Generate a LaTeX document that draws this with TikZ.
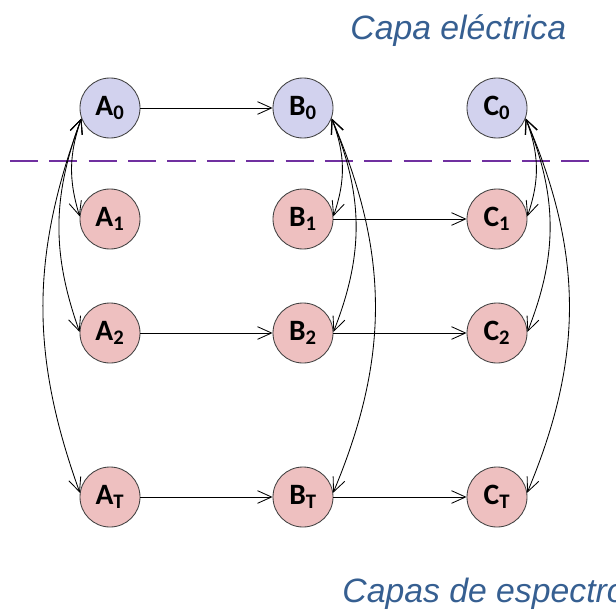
\documentclass[tikz,border=0pt]{standalone}
\usepackage{fontspec}
\setmainfont{Carlito}
\newfontfamily\titlefont{Liberation Sans}
\usetikzlibrary{arrows.meta}
\definecolor{topfill}{RGB}{210,210,238}
\definecolor{lowfill}{RGB}{238,192,192}
\definecolor{layerline}{RGB}{112,48,160}
\definecolor{layertext}{RGB}{54,95,145}
\tikzset{
  state/.style={circle, draw=black!75, line width=0.6pt, minimum size=1.5cm, inner sep=0pt, font=\bfseries\fontsize{21}{21}\selectfont},
  elec/.style={state, fill=topfill},
  spec/.style={state, fill=lowfill},
  layer/.style={font=\titlefont\itshape\fontsize{24}{24}\selectfont, text=layertext, inner sep=0pt}
}
\begin{document}
\begin{tikzpicture}[x=0.025cm, y=-0.025cm, >={Straight Barb[length=10pt,width=9pt]}, line width=0.6pt]
    \useasboundingbox (0,0) rectangle (616,610);

    % Layer titles
    \node[layer, anchor=base west] (ttop) at (350,40) {Capa eléctrica};
    \node[layer, anchor=base west] (tbot) at (342,602) {Capas de espectro};

    % Separator
    \draw[layerline, line width=2pt, dash pattern=on 20pt off 8pt] (10,161) -- (598,161);

    % Electric layer
    \node[elec] (A0) at (110,108) {A\textsubscript{0}};
    \node[elec] (B0) at (303,108) {B\textsubscript{0}};
    \node[elec] (C0) at (497,108) {C\textsubscript{0}};

    % Spectrum layers
    \node[spec] (A1) at (110,219) {A\textsubscript{1}};
    \node[spec] (B1) at (303,219) {B\textsubscript{1}};
    \node[spec] (C1) at (497,219) {C\textsubscript{1}};
    \node[spec] (A2) at (110,333) {A\textsubscript{2}};
    \node[spec] (B2) at (303,333) {B\textsubscript{2}};
    \node[spec] (C2) at (497,333) {C\textsubscript{2}};
    \node[spec] (AT) at (110,497) {A\textsubscript{T}};
    \node[spec] (BT) at (303,497) {B\textsubscript{T}};
    \node[spec] (CT) at (497,497) {C\textsubscript{T}};

    % Horizontal links
    \draw[->] (A0) -- (B0);
    \draw[->] (B1) -- (C1);
    \draw[->] (A2) -- (B2);
    \draw[->] (B2) -- (C2);
    \draw[->] (AT) -- (BT);
    \draw[->] (BT) -- (CT);

    % Vertical links, left side
    \draw[<->] (A0.200) to[bend right=18] (A1.175);
    \draw[<->] (A0.200) to[bend right=20] (A2.178);
    \draw[<->] (A0.200) to[bend right=20] (AT.172);

    % Vertical links, right side
    \draw[<->] (B0.-20) to[bend left=20] (B1.5);
    \draw[<->] (B0.-20) to[bend left=22] (B2.2);
    \draw[<->] (B0.-20) to[bend left=23] (BT.8);
    \draw[<->] (C0.-20) to[bend left=20] (C1.5);
    \draw[<->] (C0.-20) to[bend left=22] (C2.2);
    \draw[<->] (C0.-20) to[bend left=23] (CT.8);
\end{tikzpicture}
\end{document}
